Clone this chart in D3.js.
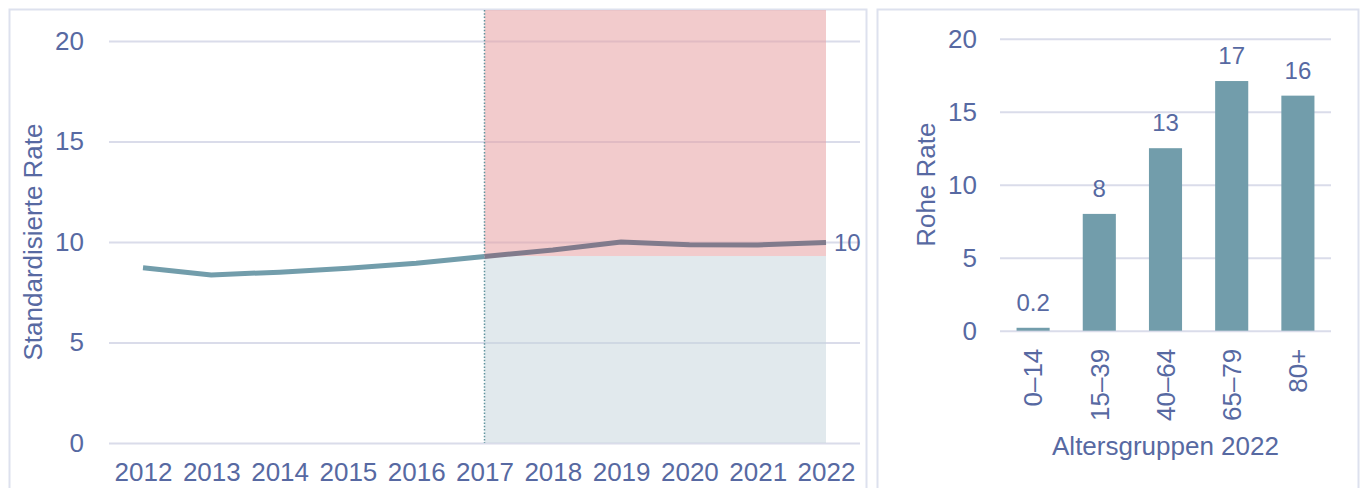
<!DOCTYPE html>
<html>
<head>
<meta charset="utf-8">
<script src="https://cdn.jsdelivr.net/npm/d3@7"></script>
<style>
  html, body { margin: 0; padding: 0; background: #ffffff; }
  svg { display: block; font-family: "Liberation Sans", Arial, sans-serif; }
</style>
</head>
<body>
<svg id="chart" width="1371" height="488"></svg>
<script>
// Standardised rate per year
const years = [2012, 2013, 2014, 2015, 2016, 2017, 2018, 2019, 2020, 2021, 2022];
const standardRate = [8.72, 8.36, 8.5, 8.7, 8.94, 9.28, 9.6, 10.0, 9.86, 9.85, 9.98];
const referenceYear = 2017;
const referenceLevel = 9.3;

// Crude rate by age group, 2022
const ageGroups = ["0\u201314", "15\u201339", "40\u201364", "65\u201379", "80+"];
const crudeRate = [0.2, 8.0, 12.5, 17.1, 16.1];

const yTicks = [0, 5, 10, 15, 20];

const textColor = "#5769a2";
const gridColor = "#dadcea";
const borderColor = "#dde1ee";
const teal = "#729dab";
const lineAfter = "#817b8c";

const svg = d3.select("#chart");

// Panel frames
svg.append("rect").attr("x", 9.5).attr("y", 9.5).attr("width", 857).attr("height", 490)
  .attr("fill", "none").attr("stroke", borderColor).attr("stroke-width", 2);
svg.append("rect").attr("x", 877.5).attr("y", 9.5).attr("width", 481).attr("height", 490)
  .attr("fill", "none").attr("stroke", borderColor).attr("stroke-width", 2);

// ---------- Left: trend line ----------
const L = { left: 109, right: 860, top: 41, bottom: 443 };
const x = d3.scalePoint().domain(years).range([143, 826]);
const y = d3.scaleLinear().domain([0, 20]).range([L.bottom, L.top]);

const gL = svg.append("g");

gL.append("g")
  .attr("transform", `translate(${L.left},0)`)
  .call(d3.axisLeft(y).tickValues(yTicks).tickSize(-(L.right - L.left)).tickPadding(25))
  .call(g => g.select(".domain").remove())
  .call(g => g.selectAll("line").attr("stroke", gridColor).attr("stroke-width", 2))
  .call(g => g.selectAll("text").attr("fill", textColor).attr("font-size", 26)
    .attr("font-family", "Liberation Sans, Arial, sans-serif"));

gL.append("g")
  .attr("transform", `translate(0,${L.bottom})`)
  .call(d3.axisBottom(x).tickSize(0).tickPadding(20).tickFormat(d3.format("d")))
  .call(g => g.select(".domain").remove())
  .call(g => g.selectAll("text").attr("fill", textColor).attr("font-size", 26)
    .attr("font-family", "Liberation Sans, Arial, sans-serif"));

// Shaded bands from the reference year on
const xRef = x(referenceYear), xEnd = x(years[years.length - 1]);
gL.append("rect")
  .attr("x", xRef).attr("y", 10).attr("width", xEnd - xRef).attr("height", y(referenceLevel) - 10)
  .attr("fill", "#e8a0a3").attr("fill-opacity", 0.55);
gL.append("rect")
  .attr("x", xRef).attr("y", y(referenceLevel)).attr("width", xEnd - xRef)
  .attr("height", y(0) - y(referenceLevel))
  .attr("fill", "#c3d3dc").attr("fill-opacity", 0.5);

// Reference year marker
gL.append("line")
  .attr("x1", xRef).attr("x2", xRef).attr("y1", 10).attr("y2", y(0))
  .attr("stroke", "#5f939d").attr("stroke-width", 1.5).attr("stroke-dasharray", "1.5,1.8");

const pts = years.map((yr, i) => ({ yr, v: standardRate[i] }));
const line = d3.line().x(d => x(d.yr)).y(d => y(d.v));

gL.append("path")
  .datum(pts.filter(d => d.yr <= referenceYear))
  .attr("d", line).attr("fill", "none")
  .attr("stroke", teal).attr("stroke-width", 5).attr("stroke-linejoin", "round");
gL.append("path")
  .datum(pts.filter(d => d.yr >= referenceYear))
  .attr("d", line).attr("fill", "none")
  .attr("stroke", lineAfter).attr("stroke-width", 5).attr("stroke-linejoin", "round");

const last = pts[pts.length - 1];
gL.append("text")
  .attr("x", x(last.yr) + 8).attr("y", y(last.v)).attr("dy", "0.36em")
  .attr("fill", textColor).attr("font-size", 24)
  .text(d3.format(".0f")(last.v));

gL.append("text")
  .attr("transform", `translate(42,${(L.top + L.bottom) / 2}) rotate(-90)`)
  .attr("text-anchor", "middle")
  .attr("fill", textColor).attr("font-size", 26)
  .text("Standardisierte Rate");

// ---------- Right: bars by age group ----------
const R = { left: 1000, right: 1331, top: 38.7, bottom: 330.7 };
const xb = d3.scaleBand().domain(ageGroups).range([R.left, R.right]).paddingInner(0.5).paddingOuter(0.25);
const yb = d3.scaleLinear().domain([0, 20]).range([R.bottom, R.top]);

const gR = svg.append("g");

gR.append("g")
  .attr("transform", `translate(${R.left},0)`)
  .call(d3.axisLeft(yb).tickValues(yTicks).tickSize(-(R.right - R.left)).tickPadding(23))
  .call(g => g.select(".domain").remove())
  .call(g => g.selectAll("line").attr("stroke", gridColor).attr("stroke-width", 2))
  .call(g => g.selectAll("text").attr("fill", textColor).attr("font-size", 26)
    .attr("font-family", "Liberation Sans, Arial, sans-serif"));

const bars = ageGroups.map((a, i) => ({ a, v: crudeRate[i] }));

gR.selectAll("rect.bar").data(bars).join("rect")
  .attr("class", "bar")
  .attr("x", d => xb(d.a)).attr("width", xb.bandwidth())
  .attr("y", d => yb(d.v)).attr("height", d => yb(0) - yb(d.v))
  .attr("fill", teal);

const fmt = v => v < 1 ? d3.format(".1f")(v) : d3.format(".0f")(v);
gR.selectAll("text.val").data(bars).join("text")
  .attr("class", "val")
  .attr("x", d => xb(d.a) + xb.bandwidth() / 2).attr("y", d => yb(d.v) - 17)
  .attr("text-anchor", "middle")
  .attr("fill", textColor).attr("font-size", 24)
  .text(d => fmt(d.v));

gR.append("g")
  .attr("transform", `translate(0,${R.bottom})`)
  .call(d3.axisBottom(xb).tickSize(0).tickPadding(0))
  .call(g => g.select(".domain").remove())
  .call(g => g.selectAll("text")
    .attr("fill", textColor).attr("font-size", 26)
    .attr("font-family", "Liberation Sans, Arial, sans-serif")
    .attr("text-anchor", "end")
    .attr("dy", "0.36em")
    .attr("transform", "translate(0,18) rotate(-90)")
    .attr("x", 0).attr("y", 0));

gR.append("text")
  .attr("x", (R.left + R.right) / 2).attr("y", 455)
  .attr("text-anchor", "middle")
  .attr("fill", textColor).attr("font-size", 26)
  .text("Altersgruppen 2022");

gR.append("text")
  .attr("transform", `translate(935,${(R.top + R.bottom) / 2}) rotate(-90)`)
  .attr("text-anchor", "middle")
  .attr("fill", textColor).attr("font-size", 26)
  .text("Rohe Rate");
</script>
</body>
</html>
